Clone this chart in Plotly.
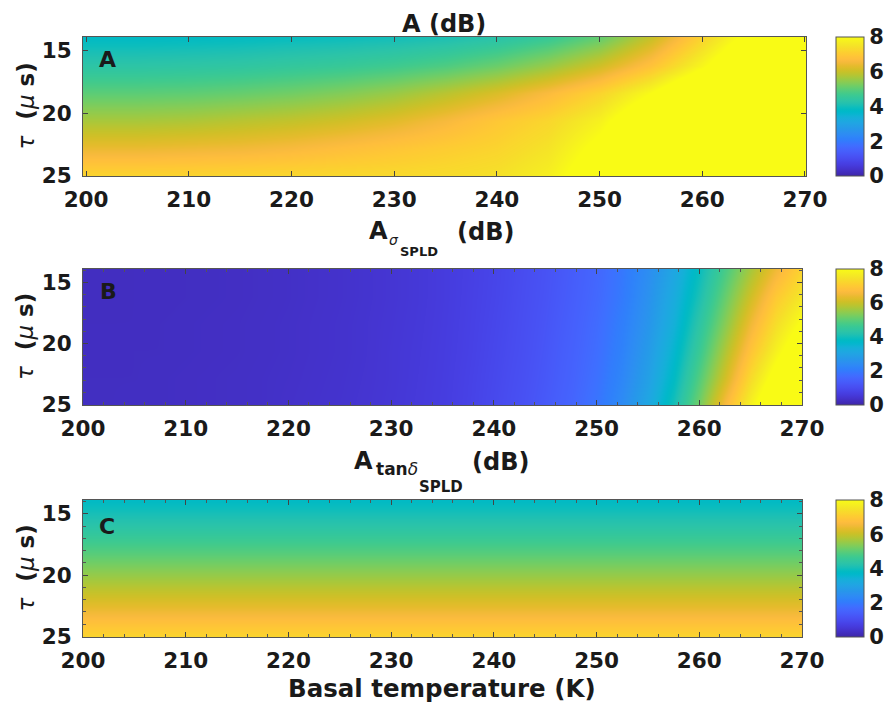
import plotly.graph_objects as go

# ---------------- data ----------------
tau = [14, 16.2, 18.4, 20.6, 22.8, 25]                      # tau (micro s)
temp_a = [200, 205, 210, 215, 220, 225, 230, 235, 240, 245, 250, 255, 260, 265, 270]
temp_b = [200, 202.5, 205, 207.5, 210, 212.5, 215, 217.5, 220, 222.5, 225, 227.5, 230,
          232.5, 235, 237.5, 240, 242.5, 245, 247.5, 250, 252.5, 255, 257.5, 260,
          262.5, 265, 267.5, 270]
temp_c = [200, 210, 220, 230, 240, 250, 260, 270]

A_total = [
    [3.8, 3.8, 3.82, 3.85, 3.9, 3.95, 4.02, 4.12, 4.3, 4.6, 5.1, 6.0, 7.2, 8.4, 9.3],
    [4.35, 4.35, 4.38, 4.42, 4.5, 4.58, 4.7, 4.88, 5.15, 5.55, 6.1, 6.85, 7.9, 9.1, 10],
    [5.0, 5.0, 5.03, 5.1, 5.2, 5.35, 5.55, 5.85, 6.2, 6.65, 7.2, 8.0, 9.1, 10, 10],
    [5.7, 5.7, 5.75, 5.85, 5.95, 6.1, 6.3, 6.6, 6.95, 7.25, 7.8, 8.8, 10, 10, 10],
    [6.4, 6.4, 6.45, 6.5, 6.6, 6.75, 6.9, 7.05, 7.2, 7.5, 8.2, 9.3, 10, 10, 10],
    [7.2, 7.2, 7.2, 7.22, 7.25, 7.28, 7.3, 7.35, 7.45, 7.75, 8.5, 9.6, 10, 10, 10],
]

A_sigma = [
    [0.25, 0.25, 0.26, 0.26, 0.27, 0.28, 0.29, 0.31, 0.33, 0.36, 0.39, 0.43, 0.48, 0.54, 0.62,
     0.72, 0.84, 0.98, 1.15, 1.35, 1.6, 1.95, 2.45, 3.1, 3.9, 4.8, 5.7, 6.5, 7.2],
    [0.25, 0.25, 0.26, 0.26, 0.27, 0.28, 0.29, 0.31, 0.33, 0.36, 0.39, 0.43, 0.48, 0.54, 0.62,
     0.73, 0.85, 1.0, 1.17, 1.38, 1.64, 2.0, 2.55, 3.25, 4.1, 5.1, 6.1, 7.0, 7.6],
    [0.26, 0.26, 0.26, 0.27, 0.28, 0.29, 0.3, 0.32, 0.34, 0.37, 0.4, 0.44, 0.49, 0.55, 0.63,
     0.74, 0.87, 1.02, 1.2, 1.42, 1.7, 2.1, 2.65, 3.4, 4.35, 5.4, 6.5, 7.4, 8.1],
    [0.26, 0.26, 0.27, 0.27, 0.28, 0.29, 0.3, 0.32, 0.34, 0.37, 0.4, 0.44, 0.5, 0.56, 0.64,
     0.75, 0.89, 1.04, 1.23, 1.46, 1.75, 2.18, 2.78, 3.6, 4.6, 5.75, 6.9, 7.8, 8.6],
    [0.27, 0.27, 0.27, 0.28, 0.29, 0.3, 0.31, 0.33, 0.35, 0.38, 0.41, 0.45, 0.5, 0.57, 0.65,
     0.77, 0.91, 1.07, 1.26, 1.5, 1.82, 2.28, 2.92, 3.8, 4.9, 6.1, 7.35, 8.3, 9.1],
    [0.27, 0.27, 0.28, 0.28, 0.29, 0.3, 0.31, 0.33, 0.36, 0.39, 0.42, 0.46, 0.51, 0.58, 0.66,
     0.78, 0.93, 1.1, 1.3, 1.55, 1.9, 2.4, 3.1, 4.05, 5.2, 6.6, 7.8, 8.8, 9.5],
]

A_tan = [
    [3.8, 3.8, 3.8, 3.8, 3.8, 3.8, 3.8, 3.8],
    [4.35, 4.35, 4.35, 4.35, 4.35, 4.35, 4.35, 4.35],
    [5.0, 5.0, 5.0, 5.0, 5.0, 5.0, 5.0, 5.0],
    [5.7, 5.7, 5.7, 5.7, 5.7, 5.7, 5.7, 5.7],
    [6.4, 6.4, 6.4, 6.4, 6.4, 6.4, 6.4, 6.4],
    [7.2, 7.2, 7.2, 7.2, 7.2, 7.2, 7.2, 7.2],
]

x_ticks = [200, 210, 220, 230, 240, 250, 260, 270]
y_ticks = [15, 20, 25]
cbar_ticks = [0, 2, 4, 6, 8]

# ---------------- colormap (parula) ----------------
parula = [
    (62, 38, 168), (64, 42, 180), (66, 46, 192), (68, 50, 203), (69, 55, 213), (70, 60, 222),
    (71, 65, 229), (71, 71, 235), (72, 77, 240), (72, 82, 244), (71, 88, 248), (70, 94, 251),
    (69, 99, 253), (66, 105, 254), (62, 111, 255), (56, 117, 254), (50, 124, 252), (47, 129, 250),
    (46, 135, 247), (45, 140, 243), (43, 145, 239), (39, 150, 235), (37, 155, 232), (35, 160, 229),
    (32, 165, 227), (28, 169, 223), (24, 173, 219), (18, 177, 214), (8, 181, 208), (1, 184, 202),
    (2, 186, 195), (11, 189, 189), (25, 191, 182), (36, 193, 174), (44, 196, 167), (49, 198, 159),
    (55, 200, 151), (63, 202, 142), (74, 203, 132), (87, 204, 122), (100, 205, 111),
    (114, 205, 100), (129, 204, 89), (143, 203, 78), (157, 201, 67), (171, 199, 57),
    (185, 196, 49), (197, 194, 42), (209, 191, 39), (220, 189, 41), (230, 187, 45),
    (240, 186, 54), (248, 186, 61), (254, 190, 60), (254, 195, 56), (254, 201, 52),
    (252, 207, 48), (250, 214, 45), (247, 220, 42), (245, 227, 39), (245, 233, 36),
    (246, 239, 32), (247, 245, 27), (249, 251, 21),
]
n = len(parula)
colorscale = [[i / (n - 1), "rgb(%d,%d,%d)" % c] for i, c in enumerate(parula)]

# the page places the figure 8 px from the window's top-left corner
OFF = 8
W, H = 893 - OFF, 706 - OFF
def px(x):
    return (x - OFF) / W
def py(y):
    return 1 - (y - OFF) / H

FONT = "DejaVu Sans"
TXT = "#1a1a1a"

panels = [
    # (z, x, x-extent px, y-extent px, x range, minor ticks)
    (A_total, temp_a, [83, 806], [37, 176], [199.7, 270.1], False),
    (A_sigma, temp_b, [83, 802], [269, 405], [200, 270], True),
    (A_tan, temp_c, [83, 802], [500, 637], [200, 270], True),
]

fig = go.Figure()
layout = dict(
    width=W, height=H,
    margin=dict(l=0, r=0, t=0, b=0, autoexpand=False),
    paper_bgcolor="white", plot_bgcolor="white",
    font=dict(family=FONT, size=21.5, color=TXT, weight="bold"),
    showlegend=False,
)

for i, (z, xs, xd, yd, xr, minor) in enumerate(panels):
    k = "" if i == 0 else str(i + 1)
    fig.add_trace(go.Heatmap(
        z=z, x=xs, y=tau, zmin=0, zmax=8, zsmooth="best",
        colorscale=colorscale, xaxis="x" + k, yaxis="y" + k,
        hoverinfo="skip",
        colorbar=dict(
            x=px(836), xanchor="left", xpad=0, ypad=0,
            y=py((yd[0] + yd[1]) / 2), yanchor="middle",
            len=(yd[1] - yd[0]) / H, lenmode="fraction",
            thickness=28, thicknessmode="pixels",
            outlinewidth=1, outlinecolor="#555",
            tickvals=cbar_ticks, ticks="",
            tickfont=dict(family=FONT, size=21, color=TXT, weight="bold"),
        ),
    ))
    xa = dict(
        domain=[px(xd[0]), px(xd[1])], range=xr, anchor="y" + k, automargin=False,
        tickvals=x_ticks, ticks="inside", ticklen=5, tickcolor="#444",
        showline=True, linecolor="#555", linewidth=1, mirror="ticks",
        showgrid=False, zeroline=False, ticklabelstandoff=4,
        tickfont=dict(family=FONT, size=21.5, color=TXT, weight="bold"),
    )
    ya = dict(
        domain=[py(yd[1]), py(yd[0])], range=[25.05, 13.88], anchor="x" + k, automargin=False,
        tickvals=y_ticks, ticks="inside", ticklen=5, tickcolor="#444",
        showline=True, linecolor="#555", linewidth=1, mirror="ticks",
        showgrid=False, zeroline=False, ticklabelstandoff=6,
        tickfont=dict(family=FONT, size=21.5, color=TXT, weight="bold"),
    )
    if minor:
        xa["minor"] = dict(ticks="inside", ticklen=3, dtick=2, tick0=200, tickcolor="#555", showgrid=False)
        ya["minor"] = dict(ticks="inside", ticklen=3, dtick=1, tick0=14, tickcolor="#555", showgrid=False)
    layout["xaxis" + k] = xa
    layout["yaxis" + k] = ya

fig.update_layout(**layout)

ann = []
def add(text, x, y, size, xanchor="center", weight="bold", angle=0):
    ann.append(dict(text=text, x=px(x), y=py(y), xref="paper", yref="paper",
                    xanchor=xanchor, yanchor="middle", showarrow=False, textangle=angle,
                    font=dict(family=FONT, size=size, color=TXT, weight=weight)))

norm_i = lambda s: '<span style="font-weight:normal"><i>%s</i></span>' % s

# titles
add("A (dB)", 443.5, 24, 24)
add("A", 378, 231.5, 24)
add(norm_i("σ"), 393.5, 240, 14)
add("SPLD", 419, 252, 13)
add("(dB)", 485, 232, 24)
add("A", 363, 461, 24)
add("tan" + norm_i("δ"), 396.5, 469, 17)
add("SPLD", 440.5, 487, 15)
add("(dB)", 500, 462, 24)

# panel letters
add("A", 97, 59.5, 22, xanchor="left")
add("B", 98, 291, 22, xanchor="left")
add("C", 97, 526, 22, xanchor="left")

# y titles
ytitle = norm_i("τ") + "\u00a0\u00a0(" + norm_i("μ") + "\u00a0s)"
for yc in [106.5, 337, 568.5]:
    add(ytitle, 25, yc, 23, angle=-90)

# x title
add("Basal temperature (K)", 442, 688, 24.5)

fig.update_layout(annotations=ann)
fig.write_html("out.html")
